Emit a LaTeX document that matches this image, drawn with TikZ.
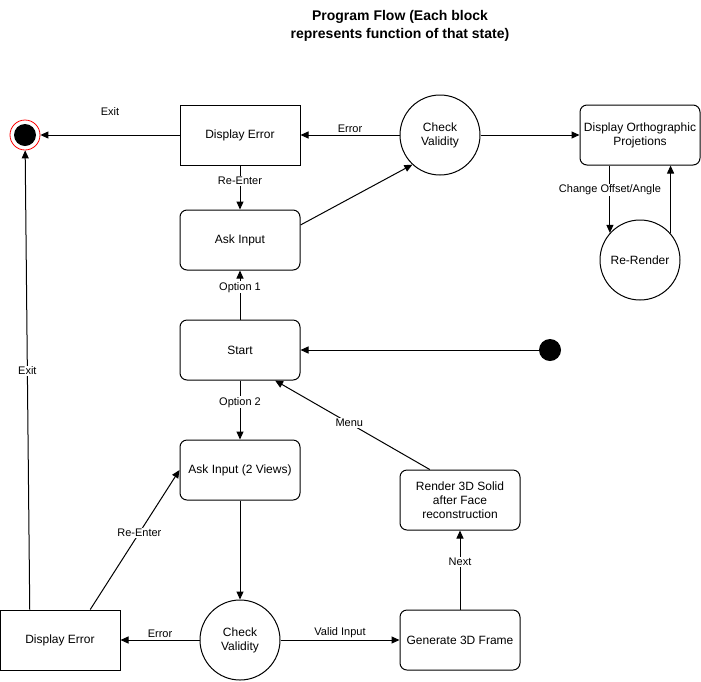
\documentclass[tikz,border=0pt]{standalone}
\usepackage{fontspec}
\setmainfont{Liberation Sans}
\usetikzlibrary{arrows.meta,calc}
\begin{document}
\begin{tikzpicture}[x=1pt,y=-1pt,
  box/.style={draw, line width=1pt, minimum width=120pt, minimum height=60pt, inner sep=0pt, font=\fontsize{12}{14}\selectfont, align=center},
  rbox/.style={box, rounded corners=7pt},
  circ/.style={draw, circle, line width=1pt, minimum size=80pt, inner sep=0pt, font=\fontsize{12}{14}\selectfont, align=center},
  arr/.style={line width=1pt, -{Triangle[length=8pt,width=7pt]}},
  lbl/.style={font=\fontsize{11}{13}\selectfont, fill=white, inner sep=1pt},
  lbla/.style={font=\fontsize{11}{13}\selectfont, inner sep=1pt}
]
\useasboundingbox[fill=white] (0,0) rectangle (701,681);
\node[font=\bfseries\fontsize{14}{18}\selectfont, align=center] (title) at (400,26) {Program Flow (Each block\\represents function of that state)};

\node[box] (err1) at (240,135) {Display Error};
\node[circ] (chk1) at (440,135) {Check\\Validity};
\node[rbox] (ortho) at (640,135) {Display Orthographic\\Projetions};
\node[circ] (rr) at (640,260) {Re-Render};
\node[rbox] (ask1) at (240,240) {Ask Input};
\node[rbox] (start) at (240,350) {Start};
\node[fill=black, circle, minimum size=22pt, inner sep=0pt] (init) at (550,350) {};
\node[rbox] (ask2) at (240,470) {Ask Input (2 Views)};
\node[rbox] (render) at (460,500) {Render 3D Solid\\after Face\\reconstruction};
\node[circ] (chk2) at (240,640) {Check\\Validity};
\node[box] (err2) at (60,640) {Display Error};
\node[rbox] (gen) at (460,640) {Generate 3D Frame};
\node[circle, draw=red, line width=0.8pt, fill=white, minimum size=30pt, inner sep=0pt] (endst) at (25,135) {};
\fill[black] (endst.center) circle (11pt);

\draw[arr] (err1) -- node[lbla, above=18pt]{Exit} (endst);
\draw[arr] (chk1) -- node[lbla, above=1pt]{Error} (err1);
\draw[arr] (chk1) -- (ortho);
\draw[arr] (err1) -- node[lbl, pos=0.35]{Re-Enter} (ask1);
\draw[arr] ($(ask1.east)+(0,-15)$) -- (chk1.227);
\draw[arr] (ortho.south -| rr.138.5) -- node[lbl, pos=0.36]{Change Offset/Angle} (rr.138.5);
\draw[arr] (rr.41.5) -- (ortho.south -| rr.41.5);
\draw[arr] (start) -- node[lbl, pos=0.66]{Option 1} (ask1);
\draw[arr] (init) -- (start);
\draw[arr] (start) -- node[lbl, pos=0.37]{Option 2} (ask2);
\draw[arr] ($(render.north west)!0.25!(render.north east)$) -- node[lbl, pos=0.52]{Menu} ($(start.south west)!0.79!(start.south east)$);
\draw[arr] (ask2) -- (chk2);
\draw[arr] (chk2) -- node[lbla, above=1pt]{Error} (err2);
\draw[arr] (chk2) -- node[lbla, above=1pt]{Valid Input} (gen);
\draw[arr] (gen) -- node[lbl, pos=0.6]{Next} (render);
\draw[arr] ($(err2.north west)!0.75!(err2.north east)$) -- node[lbl, pos=0.55]{Re-Enter} (ask2.west);
\draw[arr] ($(err2.north west)!0.25!(err2.north east)$) -- node[lbl, pos=0.52]{Exit} (endst);
\end{tikzpicture}
\end{document}
